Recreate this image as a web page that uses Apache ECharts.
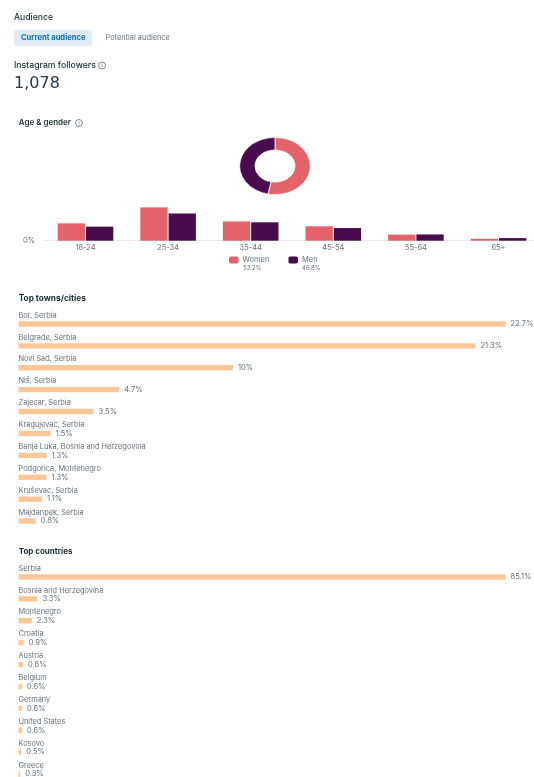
<!DOCTYPE html>
<html lang="en">

<head>
    <meta charset="UTF-8">
    <title>Audience</title>
    <script src="https://cdn.jsdelivr.net/npm/echarts@6/dist/echarts.min.js"></script>
    <style>
        html, body {
            margin: 0;
            padding: 0;
            background: #fff;
            overflow: hidden;
        }
        #box {
            position: relative;
            width: 534px;
            height: 777px;
            filter: blur(0.35px);
        }
        #main {
            width: 534px;
            height: 777px;
        }
        /* the donut in the picture is squashed, a pie can't do that by itself */
        #donut {
            position: absolute;
            left: 225px;
            top: 116px;
            width: 100px;
            height: 100px;
            transform: scaleY(0.807);
        }
    </style>
</head>

<body>
    <div id="box">
        <div id="main"></div>
        <div id="donut"></div>
    </div>
</body>
<script>
    var ageGroups = ['18-24', '25-34', '35-44', '45-54', '55-64', '65+'];
    var women = [10, 19.2, 11.1, 8.3, 3.5, 1.1];
    var men = [8.1, 15.7, 10.6, 7.3, 3.6, 1.5];
    var genderNames = ['Women', 'Men'];
    var genderShare = [53.2, 46.8];

    var cities = ['Bor, Serbia', 'Belgrade, Serbia', 'Novi Sad, Serbia', 'Niš, Serbia', 'Zajecar, Serbia', 'Kragujevac, Serbia',
        'Banja Luka, Bosnia and Herzegovina', 'Podgorica, Montenegro', 'Kruševac, Serbia', 'Majdanpek, Serbia'];
    var cityValues = [22.7, 21.3, 10, 4.7, 3.5, 1.5, 1.3, 1.3, 1.1, 0.8];

    var countries = ['Serbia', 'Bosnia and Herzegovina', 'Montenegro', 'Croatia', 'Austria', 'Belgium', 'Germany',
        'United States', 'Kosovo', 'Greece'];
    var countryValues = [85.1, 3.3, 2.3, 0.9, 0.8, 0.6, 0.6, 0.6, 0.5, 0.3];

    var font = 'Inter';
    var pink = '#e4626a';
    var purple = '#4a0a4e';
    var peach = '#fdc797';
    var dark = '#1c2b33';
    var gray = '#65707a';

    function txt(x, y, text, size, color, weight, family) {
        return {
            type: 'text',
            x: x,
            y: y,
            style: {
                text: text,
                font: (weight || 400) + ' ' + size + 'px ' + (family || font),
                fill: color,
                verticalAlign: 'middle'
            }
        };
    }

    function infoIcon(x, y) {
        return {
            type: 'group',
            children: [
                { type: 'circle', shape: { cx: x, cy: y, r: 3.5 }, style: { fill: '#fff', stroke: '#4b5760', lineWidth: 0.7 } },
                { type: 'text', x: x, y: y, style: { text: 'i', font: '5px ' + font, fill: '#4b5760', align: 'center', verticalAlign: 'middle' } }
            ]
        };
    }

    // one row list: name above the bar, value to the right of it
    function rowAxis(names, grid) {
        return {
            type: 'category',
            gridIndex: grid,
            data: names,
            inverse: true,
            axisLine: { show: false },
            axisTick: { show: false },
            axisLabel: {
                inside: true,
                interval: 0,
                margin: 0,
                align: 'left',
                verticalAlign: 'middle',
                // empty second line pushes the name above the bar
                lineHeight: 17,
                formatter: function (v) { return v + '\n '; },
                fontFamily: font,
                fontSize: 7.4,
                color: gray
            }
        };
    }

    function valueAxis(max, grid) {
        return { type: 'value', gridIndex: grid, min: 0, max: max, show: false };
    }

    function rowSeries(values, grid) {
        return {
            type: 'bar',
            xAxisIndex: grid,
            yAxisIndex: grid,
            data: values,
            barWidth: 5.4,
            silent: true,
            itemStyle: { color: peach },
            label: {
                show: true,
                position: 'right',
                distance: 5,
                formatter: '{c}%',
                fontFamily: font,
                fontSize: 7.5,
                color: gray
            }
        };
    }

    var my = echarts.init(document.getElementById('main'));
    var option = {
        animation: false,
        backgroundColor: '#fff',
        grid: [
            { left: 44.2, top: 180, width: 495.6, height: 60.7, outerBoundsMode: 'none' },
            { left: 18.5, top: 313, width: 487, height: 219, outerBoundsMode: 'none' },
            { left: 18.5, top: 566, width: 487, height: 219, outerBoundsMode: 'none' }
        ],
        xAxis: [
            {
                type: 'category',
                gridIndex: 0,
                data: ageGroups,
                axisLine: { lineStyle: { color: '#e6e8ea', width: 1 } },
                axisTick: { show: false },
                axisLabel: { interval: 0, margin: 3.5, fontFamily: font, fontSize: 7.5, color: gray }
            },
            valueAxis(22.7, 1),
            valueAxis(85.1, 2)
        ],
        yAxis: [
            {
                type: 'value',
                gridIndex: 0,
                min: 0,
                max: 35,
                interval: 35,
                splitLine: { show: false },
                axisLabel: {
                    margin: 9,
                    fontFamily: font,
                    fontSize: 7.5,
                    color: gray,
                    formatter: function (v) { return v === 0 ? '0%' : ''; }
                }
            },
            rowAxis(cities, 1),
            rowAxis(countries, 2)
        ],
        legend: [
            {
                data: ['Women'],
                left: 229,
                top: 256,
                icon: 'roundRect',
                itemWidth: 9.5,
                itemHeight: 7,
                itemGap: 0,
                padding: 0,
                selectedMode: false,
                textStyle: { fontFamily: font, fontSize: 7.5, color: gray, padding: [0, 0, 0, -1] }
            },
            {
                data: ['Men'],
                left: 288.5,
                top: 256,
                icon: 'roundRect',
                itemWidth: 9.5,
                itemHeight: 7,
                itemGap: 0,
                padding: 0,
                selectedMode: false,
                textStyle: { fontFamily: font, fontSize: 7.5, color: gray, padding: [0, 0, 0, -1] }
            }
        ],
        series: [
            { name: genderNames[0], type: 'bar', data: women, barWidth: 27.3, barGap: '3.6%', itemStyle: { color: pink }, silent: true },
            { name: genderNames[1], type: 'bar', data: men, barWidth: 27.3, itemStyle: { color: purple }, silent: true },
            rowSeries(cityValues, 1),
            rowSeries(countryValues, 2)
        ],
        graphic: [
            txt(14, 17, 'Audience', 8.6, dark, 500),
            { type: 'rect', shape: { x: 14, y: 30, width: 78, height: 16, r: 2 }, style: { fill: '#deebf6' } },
            txt(21, 38, 'Current audience', 7.6, '#0b6fb0', 700),
            txt(105.5, 38, 'Potential audience', 7.4, gray),
            txt(14, 65.5, 'Instagram followers', 8.7, dark, 500),
            infoIcon(102, 65.5),
            txt(14, 84, '1,078', 16, '#2a3843', 400, 'DejaVu Sans'),
            txt(18.7, 123, 'Age & gender', 8, dark, 600),
            infoIcon(79, 123),
            txt(243, 268.7, genderShare[0] + '%', 6, gray),
            txt(302, 268.7, genderShare[1] + '%', 6, gray),
            txt(18.7, 298.5, 'Top towns/cities', 8.3, dark, 700),
            txt(18.7, 551.5, 'Top countries', 8, dark, 700)
        ]
    };
    my.setOption(option);

    var donut = echarts.init(document.getElementById('donut'));
    donut.setOption({
        animation: false,
        series: [{
            type: 'pie',
            center: [50, 50],
            radius: [20, 35.4],
            startAngle: 90,
            silent: true,
            label: { show: false },
            labelLine: { show: false },
            itemStyle: { borderColor: '#fff', borderWidth: 0.8 },
            data: [
                { name: genderNames[0], value: genderShare[0], itemStyle: { color: pink } },
                { name: genderNames[1], value: genderShare[1], itemStyle: { color: purple } }
            ]
        }]
    });
</script>

</html>
